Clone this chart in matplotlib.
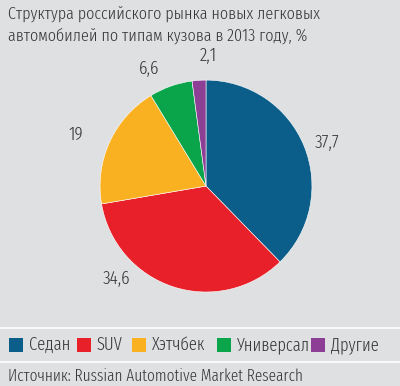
import numpy as np
import matplotlib
matplotlib.use("Agg")
import matplotlib.pyplot as plt
from matplotlib.patches import Rectangle
from matplotlib.lines import Line2D

categories = ["Седан", "SUV", "Хэтчбек", "Универсал", "Другие"]
values = [37.7, 34.6, 19, 6.6, 2.1]
value_labels = ["37,7", "34,6", "19", "6,6", "2,1"]
colors = ["#0b5e8a", "#e8202a", "#f9b122", "#0aa54a", "#8d3f96"]
title = "Структура российского рынка новых легковых\nавтомобилей по типам кузова в 2013 году, %"
source = "Источник: Russian Automotive Market Research"

# label placement tweaks (style, not data)
label_angle_offset = [-2.5, -26, 3, 6.6, -5]
label_dist = [1.21, 1.22, 1.32, 1.23, 1.23]

BG = "#dfe0e2"
TXT = "#383838"
FONT = ["Fira Sans Extra Condensed", "DejaVu Sans"]
plt.rcParams["font.family"] = FONT
plt.rcParams["font.weight"] = 300

fig = plt.figure(figsize=(4.0, 3.86), dpi=100, facecolor=BG)
ax = fig.add_axes([0.25, 0.2435, 0.53, 0.549])
ax.set_facecolor(BG)
wedges, _ = ax.pie(values, colors=colors, startangle=90, counterclock=False,
                   radius=1.0, wedgeprops=dict(edgecolor="white", linewidth=0.4))
ax.set_xlim(-1, 1)
ax.set_ylim(-1, 1)
ax.set_aspect("equal")
ax.axis("off")

for w, lab, off, d in zip(wedges, value_labels, label_angle_offset, label_dist):
    ang = np.deg2rad((w.theta1 + w.theta2) / 2 + off)
    ax.text(d * np.cos(ang), d * np.sin(ang), lab, ha="center", va="center",
            fontsize=13.5, color=TXT, clip_on=False)

fig.text(8 / 400, 1 - 20 / 386, title.split("\n")[0], ha="left", va="baseline",
         fontsize=12.6, color=TXT)
fig.text(8 / 400, 1 - 41 / 386, title.split("\n")[1], ha="left", va="baseline",
         fontsize=12.6, color=TXT)

# separator lines
for yp in [328, 362]:
    fig.add_artist(Line2D([0, 1], [1 - yp / 386] * 2, color="white", lw=1.2,
                          transform=fig.transFigure))

# legend
x_starts = [9, 77, 132, 217, 311]
for xs, c, name in zip(x_starts, colors, categories):
    fig.add_artist(Rectangle((xs / 400, 1 - 352 / 386), 14 / 400, 14 / 386,
                             transform=fig.transFigure, facecolor=c, edgecolor="none"))
    fig.text((xs + 20) / 400, 1 - 345 / 386, name, ha="left", va="center",
             fontsize=13, color=TXT)

fig.text(8 / 400, 1 - 376 / 386, source, ha="left", va="center", fontsize=12, color=TXT)

fig.savefig("out.png", dpi=100, facecolor=BG)
